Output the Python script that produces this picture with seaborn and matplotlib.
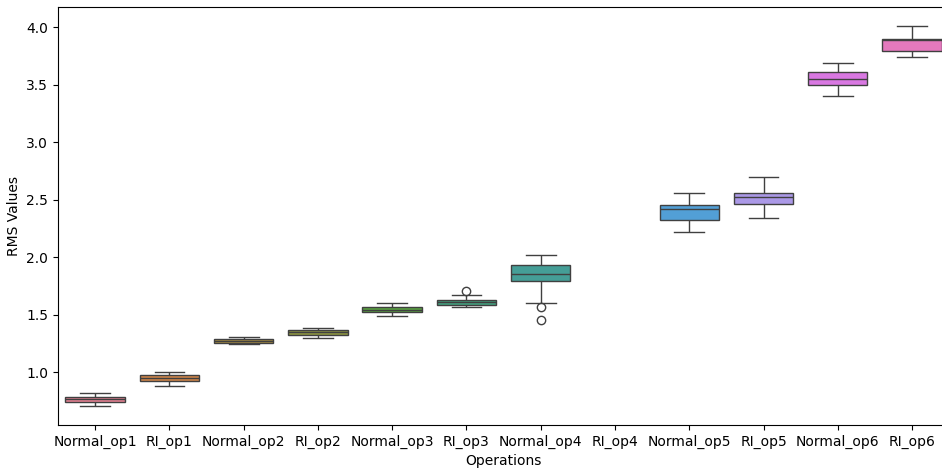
import pandas as pd
import matplotlib
matplotlib.use("Agg")
import matplotlib.pyplot as plt
import seaborn as sns

# Category order as on the x axis (RI_op4 has no data)
operations = ['Normal_op1', 'RI_op1', 'Normal_op2', 'RI_op2', 'Normal_op3', 'RI_op3',
              'Normal_op4', 'RI_op4', 'Normal_op5', 'RI_op5', 'Normal_op6', 'RI_op6']

# RMS values per operation
normal_op1 = [0.707, 0.728, 0.742, 0.755, 0.762, 0.774, 0.785, 0.801, 0.814]
ri_op1 = [0.881, 0.905, 0.924, 0.938, 0.950, 0.962, 0.977, 0.990, 1.003]
normal_op2 = [1.241, 1.249, 1.255, 1.262, 1.270, 1.277, 1.284, 1.295, 1.304]
ri_op2 = [1.293, 1.310, 1.324, 1.336, 1.345, 1.353, 1.362, 1.372, 1.383]
normal_op3 = [1.484, 1.505, 1.522, 1.533, 1.542, 1.553, 1.565, 1.581, 1.597]
ri_op3 = [1.565, 1.572, 1.580, 1.594, 1.606, 1.615, 1.625, 1.670, 1.705]
normal_op4 = [1.452, 1.568, 1.597, 1.795, 1.812, 1.838, 1.855, 1.878, 1.905,
              1.935, 1.962, 1.990, 2.017]
ri_op4 = []
normal_op5 = [2.215, 2.270, 2.319, 2.370, 2.415, 2.435, 2.452, 2.505, 2.554]
ri_op5 = [2.342, 2.410, 2.465, 2.495, 2.519, 2.540, 2.560, 2.630, 2.700]
normal_op6 = [3.400, 3.455, 3.498, 3.525, 3.551, 3.580, 3.606, 3.650, 3.687]
ri_op6 = [3.742, 3.770, 3.794, 3.840, 3.884, 3.889, 3.893, 3.950, 4.009]

values = [normal_op1, ri_op1, normal_op2, ri_op2, normal_op3, ri_op3,
          normal_op4, ri_op4, normal_op5, ri_op5, normal_op6, ri_op6]

rows = []
for op, vals in zip(operations, values):
    for v in vals:
        rows.append({'Operation': op, 'RMS': v})
df = pd.DataFrame(rows)

fig = plt.figure(figsize=(9.42, 4.68), dpi=100)
# right edge of the axes runs just past the canvas, as in the cropped reference
ax = fig.add_axes([0.0616, 0.092, 0.946, 0.893])

sns.boxplot(data=df, x='Operation', y='RMS', hue='Operation',
            order=operations, hue_order=operations, legend=False, ax=ax)

ax.set_ylim(0.54, 4.174)
ax.set_xlabel('Operations')
ax.set_ylabel('RMS Values')

plt.savefig('out.png', dpi=100)
